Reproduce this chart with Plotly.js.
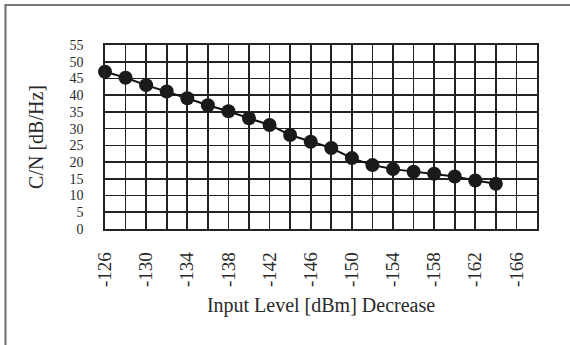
<!DOCTYPE html>
<html>
<head>
<meta charset="utf-8">
<script src="https://cdn.plot.ly/plotly-3.0.1.min.js"></script>
<style>html,body{margin:0;padding:0;background:#fff;}#chart{width:570px;height:345px;}</style>
</head>
<body>
<div id="chart"></div>
<script>
const inputLevel = [-126,-128,-130,-132,-134,-136,-138,-140,-142,-144,-146,-148,-150,-152,-154,-156,-158,-160,-162,-164];
const cnValues = [47,45.2,43,41.1,39.1,37,35.2,33.1,31.1,28.1,26.1,24.2,21.2,19.1,17.9,17.1,16.5,15.7,14.5,13.5];
const xTickVals = [-126,-130,-134,-138,-142,-146,-150,-154,-158,-162,-166];
const xTickText = ["-126","-130","-134","-138","-142","-146","-150","-154","-158","-162","-166"];
const yTickVals = [0,5,10,15,20,25,30,35,40,45,50,55];

const W = 570, H = 345, L = 105, R = 33, T = 45, B = 116;
const pw = W - L - R, ph = H - T - B;
const px = v => (v - L) / pw;
const py = v => (H - B - v) / ph;

const trace = {
  x: inputLevel, y: cnValues, type: 'scatter', mode: 'lines+markers',
  line: {color: '#111', width: 2},
  marker: {color: '#1a1a1a', size: 14},
  cliponaxis: false, hoverinfo: 'skip'
};

const layout = {
  width: W, height: H,
  margin: {l: L, r: R, t: T, b: B, pad: 0},
  paper_bgcolor: '#fff', plot_bgcolor: '#fff',
  font: {family: 'Liberation Serif, Times New Roman, serif', color: '#2a2a2a', size: 19},
  showlegend: false,
  xaxis: {
    range: [-126, -168], tickvals: xTickVals, ticktext: xTickText,
    tickangle: -90, ticks: '', ticklabelstandoff: 14,
    tickfont: {size: 19},
    showgrid: true, gridcolor: '#222', gridwidth: 1.6,
    minor: {dtick: 2, tick0: -126, showgrid: true, gridcolor: '#222', gridwidth: 1.6},
    showline: true, linecolor: '#222', linewidth: 1.6, mirror: true,
    zeroline: false,
    title: {text: 'Input Level [dBm] Decrease', font: {size: 20}, standoff: 12}
  },
  yaxis: {
    range: [0, 55], tickvals: yTickVals, ticks: '', ticklabelstandoff: 17,
    tickfont: {size: 14},
    showgrid: true, gridcolor: '#222', gridwidth: 1.6,
    showline: true, linecolor: '#222', linewidth: 1.6, mirror: true,
    zeroline: false,
    title: {text: 'C/N [dB/Hz]', font: {size: 20}, standoff: 20}
  },
  shapes: [
    {type: 'line', xref: 'paper', yref: 'paper', x0: px(5.5), x1: px(5.5), y0: py(5), y1: py(345), line: {color: '#777', width: 2.2}},
    {type: 'line', xref: 'paper', yref: 'paper', x0: px(4.5), x1: px(570), y0: py(5), y1: py(5), line: {color: '#777', width: 2.2}}
  ]
};

Plotly.newPlot('chart', [trace], layout, {staticPlot: true, displayModeBar: false});
</script>
</body>
</html>
